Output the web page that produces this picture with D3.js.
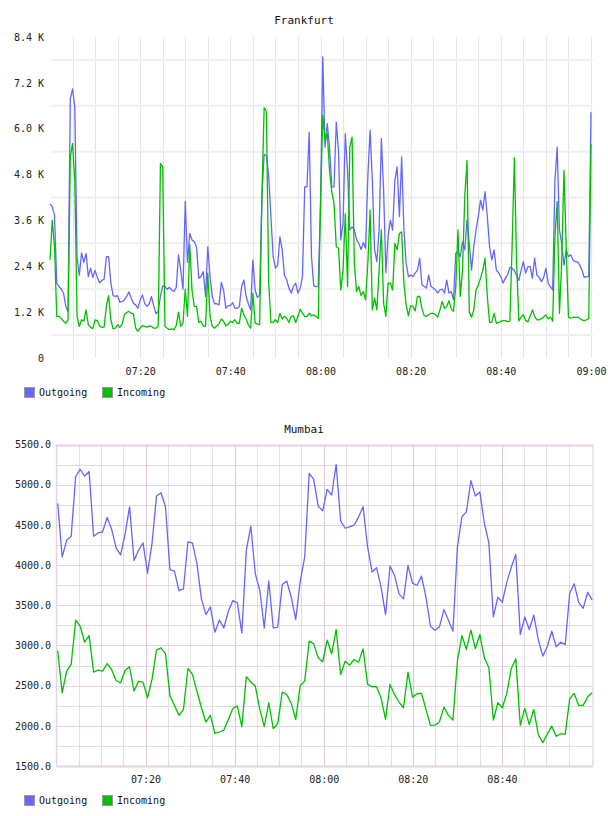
<!DOCTYPE html>
<html><head><meta charset="utf-8">
<script src="https://cdn.jsdelivr.net/npm/d3@7"></script>
<style>body{margin:0;background:#fff;overflow:hidden} text{font-family:"DejaVu Sans Mono",monospace}</style>
</head><body><svg id="c" width="608" height="816"></svg>
<script>
// ---------- DATA ----------
const seriesNames = ["Outgoing", "Incoming"];
const seriesColors = ["#6666ff", "#00c000"];

// Frankfurt: samples every 30 s from 07:00 to 09:00
const frankfurtOutgoing = [4030,3960,3740,1960,1870,1800,1700,1350,1220,6780,7040,6570,2650,2170,2750,2500,2740,2130,2350,2110,
2290,2110,1970,2030,2060,2650,2650,1960,1630,1610,1630,1460,1480,1520,1610,1730,1570,1430,1390,1300,
1520,1650,1430,1350,1420,1610,1370,1160,1220,1610,1890,1870,1800,1850,1780,1740,1850,2700,2300,1800,
4100,2500,3260,3090,3040,2910,2090,2130,2260,1610,2910,2130,1610,1420,1420,1390,1980,1780,1300,1370,
1370,1450,1300,1300,1350,1870,2040,1610,1420,1260,2570,1780,1580,1650,4220,5330,5300,4780,3700,2650,
2350,2430,3170,2830,2170,2040,1830,1700,1870,1960,1700,1830,2130,4480,4480,5910,2650,1890,1870,1870,
4000,7880,5520,6130,5520,4480,4480,6170,5400,3090,3520,5870,4900,3350,3430,3350,3100,3000,2840,3020,
2870,4740,5960,4650,2830,2520,3350,5740,4390,2230,3200,3610,3350,4650,5000,3700,5260,3350,2480,2130,
2170,2130,2220,2300,2610,1910,1870,1830,2170,1870,1830,1780,1700,1780,1800,1700,2040,1700,1740,1520,
2740,2780,2650,3040,2830,3610,3000,2300,2910,3350,3700,4130,3870,4350,3700,2910,2570,2830,2300,2230,
2130,1960,2090,2170,2370,2350,2290,2150,2030,2300,2520,2220,2390,2390,2090,2610,2170,2110,2000,2110,
2350,1960,1870,1780,4650,5520,3350,3000,2430,2830,2650,2700,2570,2520,2520,2430,2300,2110,2130,2130,
6430];
const frankfurtIncoming = [2570,3610,2910,1090,1090,1040,960,910,1000,5260,5610,4650,1090,830,1000,960,1260,870,800,770,
1000,980,840,800,810,1350,1630,1000,760,780,870,800,890,1130,1190,1220,1170,1160,780,700,
780,850,830,810,840,830,780,780,830,5090,5000,830,780,740,760,740,850,1200,830,910,
1800,1090,2960,1780,1350,1350,930,960,840,830,2220,1090,830,780,840,900,1020,960,840,880,
960,930,1000,910,910,1300,1130,1020,870,780,1700,910,890,870,4200,6550,6450,2000,930,930,
1000,930,1170,1020,1090,1040,930,1090,1100,930,1090,1280,1170,1090,1090,1170,1100,1130,1090,1040,
4000,6350,5700,5870,4910,4350,4040,2910,2870,1780,2300,3780,1870,5520,5780,2480,1740,1870,1630,1740,
1520,2480,3870,1260,1570,1260,2300,3350,1430,1090,1960,1960,1780,3000,2830,3260,3300,1960,1390,1100,
1370,1350,1230,1610,1610,1300,1110,1090,1130,1170,1170,1130,1070,1260,1480,1300,1350,1500,1280,1220,
1870,3350,1610,2300,4220,5170,1200,1070,1260,1780,1910,2090,2300,2610,1610,930,930,1170,910,930,
960,980,980,950,960,2910,5240,2480,970,1070,1130,980,950,1090,1260,1090,1000,1000,1030,1070,
1130,1020,1070,960,3170,4090,1170,2480,4910,2910,1070,1040,1060,1070,1070,1040,1000,980,1000,1030,
5600];

// Mumbai: one sample per minute
const mumbaiOutgoing = [4767,4100,4308,4358,5100,5192,5108,5163,4358,4400,4412,4592,4450,4217,4125,4383,4725,4058,4183,4275,
3900,4267,4858,4900,4725,3942,3925,3683,3704,4287,4275,4017,3580,3384,3480,3165,3314,3218,3425,3558,
3530,3156,4183,4483,3892,3683,3218,3800,3218,3226,3758,3800,3600,3322,3800,4100,5142,5067,4733,4675,
4942,4871,5254,4550,4458,4475,4496,4600,4725,4225,3913,3967,3725,3384,3988,3871,3642,3579,3996,3775,
3746,3862,3600,3239,3190,3231,3446,3314,3177,4225,4600,4663,5050,4858,4908,4517,4275,3355,3600,3537,
3787,3975,4133,3136,3355,3198,3376,3074,2867,2983,3177,2983,3040,3011,3650,3767,3537,3462,3662,3567];
const mumbaiIncoming = [2937,2411,2680,2763,3314,3239,3040,3123,2668,2693,2680,2775,2701,2564,2535,2689,2734,2432,2552,2544,
2349,2577,2941,2970,2896,2370,2254,2130,2204,2713,2639,2432,2225,2047,2130,1906,1923,1947,2080,2217,
2246,1989,2610,2544,2494,2204,1989,2287,1964,2030,2419,2390,2279,2080,2502,2556,3053,3020,2846,2796,
3065,2896,3198,2639,2804,2755,2825,2792,2958,2515,2486,2486,2349,2080,2515,2390,2295,2225,2668,2357,
2399,2403,2204,2005,2009,2047,2233,2130,2072,2804,3123,2949,3190,2962,3136,2846,2722,2072,2287,2225,
2403,2713,2833,2005,2217,2014,2204,1894,1790,1894,1997,1869,1902,1894,2337,2403,2254,2254,2362,2411];

const frankfurtYTicks = [0,1200,2400,3600,4800,6000,7200,8400];
const frankfurtYTickLabels = ["0","1.2 K","2.4 K","3.6 K","4.8 K","6.0 K","7.2 K","8.4 K"];
const mumbaiYTicks = [1500,2000,2500,3000,3500,4000,4500,5000,5500];
const xTickLabels = ["07:20","07:40","08:00","08:20","08:40","09:00"];
const mumbaiXTickLabels = ["07:20","07:40","08:00","08:20","08:40"];

// ---------- DRAW ----------
const svg = d3.select("#c");
const T = (h, m, s) => new Date(Date.UTC(2020, 0, 1, h, m, s || 0));
const parseHM = d3.utcParse("%H:%M");
const tickDate = s => { const p = s.split(":"); return T(+p[0], +p[1]); };
const t0 = T(7, 0), t1 = T(9, 0);

function legend(g, y) {
  seriesNames.forEach((n, i) => {
    const x0 = [24, 102][i];
    g.append("rect").attr("x", x0 + 0.5).attr("y", y + 0.5).attr("width", 10).attr("height", 10)
      .attr("fill", seriesColors[i]).attr("stroke", "#999").attr("stroke-width", 1);
    g.append("text").attr("x", x0 + 15).attr("y", y + 9).attr("font-size", 10).attr("fill", "#111").text(n);
  });
}

function drawLines(g, x, y, series, start, stepSec) {
  series.forEach((vals, si) => {
    const line = d3.line()
      .x((d, i) => x(new Date(start.getTime() + i * stepSec * 1000)))
      .y(d => y(d));
    g.append("path").datum(vals).attr("fill", "none").attr("stroke", seriesColors[si])
      .attr("stroke-width", 1.3).attr("stroke-linejoin", "round").attr("d", line);
  });
}

// ===== Frankfurt =====
{
  const top = 37, bottom = 358, left = 50, right = 591;
  const g = svg.append("g");
  const x = d3.scaleUtc().domain([t0, t1]).range([left, right]);
  const y = d3.scaleLinear().domain([0, 8400]).range([bottom, top]);

  g.append("text").attr("x", 304).attr("y", 24).attr("text-anchor", "middle")
    .attr("font-size", 11).attr("fill", "#111").text("Frankfurt");

  // vertical grid every 5 min
  const vt = d3.utcMinute.every(5).range(T(7, 5), T(9, 0, 1));
  g.selectAll(".vg").data(vt).join("line")
    .attr("x1", d => Math.round(x(d)) + 0.5).attr("x2", d => Math.round(x(d)) + 0.5)
    .attr("y1", top).attr("y2", bottom).attr("stroke", "#e6e6e6").attr("stroke-width", 1);
  // horizontal grid between labelled ticks
  const hg = d3.range(600, 8400, 1200);
  g.selectAll(".hg").data(hg).join("line")
    .attr("x1", left + 1).attr("x2", 593).attr("y1", d => y(d)).attr("y2", d => y(d))
    .attr("stroke", "#f0f0f0").attr("stroke-width", 2);

  // y axis labels
  const ya = d3.axisLeft(y).tickValues(frankfurtYTicks)
    .tickFormat((d, i) => frankfurtYTickLabels[i]).tickSize(0).tickPadding(0);
  const yg = g.append("g").attr("transform", `translate(44,0)`).call(ya);
  yg.select(".domain").remove();
  yg.selectAll("text").attr("font-size", 10).attr("font-family", "DejaVu Sans Mono").attr("fill", "#222");

  // x axis labels
  const xa = d3.axisBottom(x).tickValues(xTickLabels.map(tickDate))
    .tickFormat(d3.utcFormat("%H:%M")).tickSize(0).tickPadding(0);
  const xg = g.append("g").attr("transform", `translate(0,368)`).call(xa);
  xg.select(".domain").remove();
  xg.selectAll("text").attr("font-size", 10).attr("font-family", "DejaVu Sans Mono").attr("fill", "#222");

  drawLines(g, x, y, [frankfurtOutgoing, frankfurtIncoming], t0, 30);
  legend(g, 387);
}

// ===== Mumbai =====
{
  const top = 444.5, bottom = 766, left = 56.5, right = 591;
  const g = svg.append("g");
  const x = d3.scaleUtc().domain([t0, t1]).range([left, right]);
  const y = d3.scaleLinear().domain([1500, 5500]).range([bottom, top]);

  g.append("text").attr("x", 304).attr("y", 433).attr("text-anchor", "middle")
    .attr("font-size", 11).attr("fill", "#111").text("Mumbai");

  const minorH = d3.range(1750, 5500, 500);
  g.selectAll(".mh").data(minorH).join("line")
    .attr("x1", left).attr("x2", 593).attr("y1", d => Math.round(y(d)) + 0.5).attr("y2", d => Math.round(y(d)) + 0.5)
    .attr("stroke", "#e0dce0").attr("stroke-width", 1);
  const minorV = d3.utcMinute.every(5).range(T(7, 5), T(9, 0)).filter(d => d.getUTCMinutes() % 20 !== 0);
  g.selectAll(".mv").data(minorV).join("line")
    .attr("x1", d => Math.round(x(d)) + 0.5).attr("x2", d => Math.round(x(d)) + 0.5)
    .attr("y1", top).attr("y2", bottom).attr("stroke", "#e4dee4").attr("stroke-width", 1);
  const majorV = d3.utcMinute.every(20).range(T(7, 20), T(9, 0));
  g.selectAll(".Mv").data(majorV).join("line")
    .attr("x1", d => Math.round(x(d)) + 0.5).attr("x2", d => Math.round(x(d)) + 0.5)
    .attr("y1", top).attr("y2", bottom).attr("stroke", "#dcc6dc").attr("stroke-width", 1);
  g.selectAll(".Mh").data(mumbaiYTicks).join("line")
    .attr("x1", left).attr("x2", 593).attr("y1", d => Math.round(y(d)) + 0.5).attr("y2", d => Math.round(y(d)) + 0.5)
    .attr("stroke", "#e6d2e6").attr("stroke-width", d => (d === 5500 || d === 1500) ? 2 : 1);
  // frame sides
  g.append("line").attr("x1", left).attr("x2", left).attr("y1", top).attr("y2", bottom)
    .attr("stroke", "#e6d2e6").attr("stroke-width", 1.5);
  g.append("line").attr("x1", 593).attr("x2", 593).attr("y1", top).attr("y2", bottom)
    .attr("stroke", "#efe2ef").attr("stroke-width", 2);

  const ya = d3.axisLeft(y).tickValues(mumbaiYTicks).tickFormat(d3.format(".1f")).tickSize(0).tickPadding(0);
  const yg = g.append("g").attr("transform", `translate(51,0)`).call(ya);
  yg.select(".domain").remove();
  yg.selectAll("text").attr("font-size", 10).attr("font-family", "DejaVu Sans Mono").attr("fill", "#222");

  const xa = d3.axisBottom(x).tickValues(mumbaiXTickLabels.map(tickDate))
    .tickFormat(d3.utcFormat("%H:%M")).tickSize(0).tickPadding(0);
  const xg = g.append("g").attr("transform", `translate(0,776)`).call(xa);
  xg.select(".domain").remove();
  xg.selectAll("text").attr("font-size", 10).attr("font-family", "DejaVu Sans Mono").attr("fill", "#222");

  drawLines(g, x, y, [mumbaiOutgoing, mumbaiIncoming], T(7, 0, 16), 60.5);
  legend(g, 795);
}
</script></body></html>
